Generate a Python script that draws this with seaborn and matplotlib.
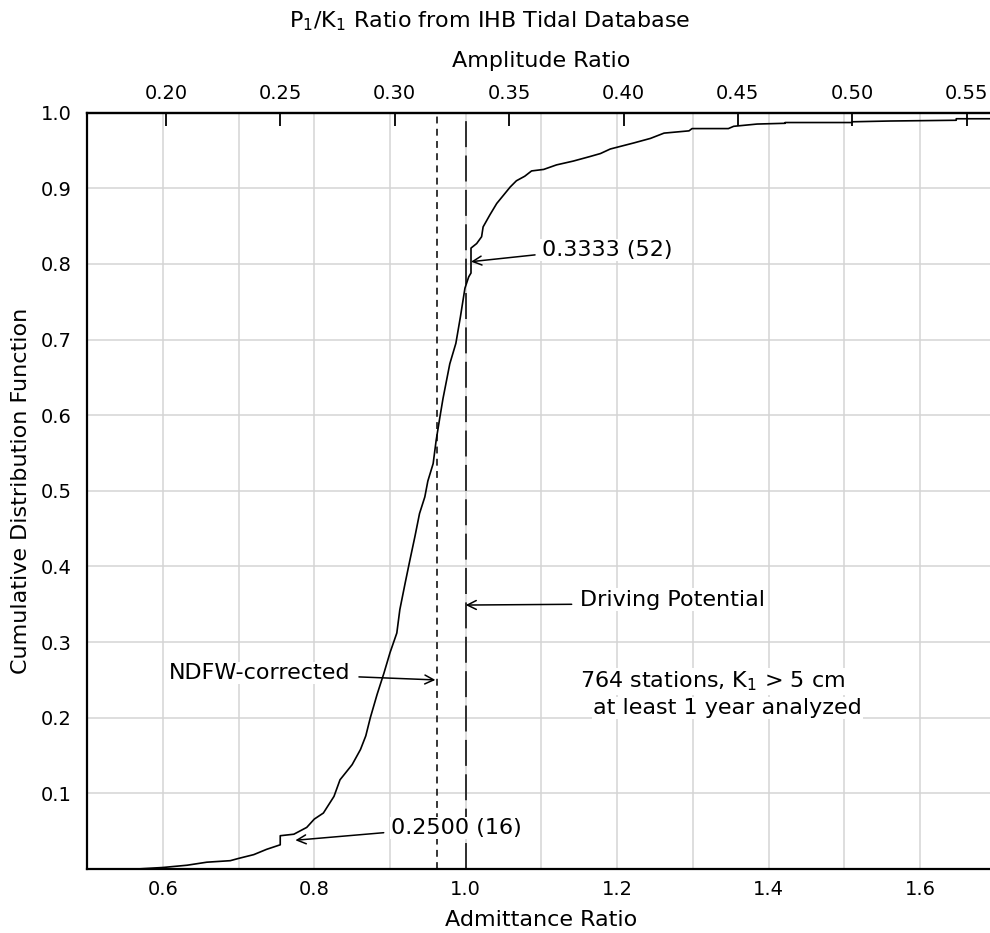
import numpy as np
import pandas as pd
import matplotlib
matplotlib.use("Agg")
import matplotlib.pyplot as plt
import seaborn as sns

# ---- data ----
admittance = [0.566, 0.600, 0.632, 0.658, 0.689, 0.700, 0.720, 0.737, 0.755, 0.755,
              0.773, 0.790, 0.800, 0.812, 0.826, 0.834, 0.850, 0.861, 0.868, 0.874,
              0.883, 0.892, 0.900, 0.909, 0.913, 0.920, 0.926, 0.933, 0.939, 0.946,
              0.950, 0.957, 0.961, 0.966, 0.970, 0.979, 0.987, 0.993, 0.999, 1.004,
              1.007, 1.007, 1.0145, 1.021, 1.023, 1.032, 1.041, 1.050, 1.059, 1.067,
              1.078, 1.087, 1.103, 1.120, 1.142, 1.164, 1.178, 1.191, 1.222, 1.244,
              1.262, 1.295, 1.299, 1.347, 1.354, 1.385, 1.422, 1.422, 1.510, 1.511,
              1.560, 1.648, 1.648, 1.700]
cdf = [0.000, 0.002, 0.005, 0.009, 0.011, 0.014, 0.019, 0.026, 0.032, 0.044,
       0.046, 0.055, 0.066, 0.074, 0.096, 0.118, 0.138, 0.158, 0.176, 0.200,
       0.231, 0.259, 0.286, 0.312, 0.343, 0.378, 0.407, 0.440, 0.470, 0.492,
       0.513, 0.536, 0.567, 0.598, 0.622, 0.668, 0.695, 0.730, 0.768, 0.783,
       0.788, 0.821, 0.827, 0.836, 0.849, 0.865, 0.880, 0.891, 0.902, 0.910,
       0.916, 0.923, 0.925, 0.931, 0.936, 0.942, 0.946, 0.952, 0.960, 0.966,
       0.973, 0.976, 0.979, 0.979, 0.982, 0.985, 0.986, 0.987, 0.987, 0.988,
       0.989, 0.990, 0.992, 0.992]

equilibrium_ratio = 0.331          # P1/K1 amplitude ratio of the driving potential
ndfw_admittance = 0.962
driving_admittance = 1.0

x_ticks = [0.5, 0.6, 0.7, 0.8, 0.9, 1.0, 1.1, 1.2, 1.3, 1.4, 1.5, 1.6, 1.7]
x_tick_labels = ["", "0.6", "", "0.8", "", "1.0", "", "1.2", "", "1.4", "", "1.6", ""]
y_ticks = [0.1, 0.2, 0.3, 0.4, 0.5, 0.6, 0.7, 0.8, 0.9, 1.0]
y_tick_labels = ["0.1", "0.2", "0.3", "0.4", "0.5", "0.6", "0.7", "0.8", "0.9", "1.0"]
amp_ticks = [0.20, 0.25, 0.30, 0.35, 0.40, 0.45, 0.50, 0.55]
amp_tick_labels = ["0.20", "0.25", "0.30", "0.35", "0.40", "0.45", "0.50", "0.55"]

df = pd.DataFrame({"Admittance Ratio": admittance, "CDF": cdf})

sns.set_theme(style="white")
plt.rcParams["font.family"] = ["DejaVu Sans"]
plt.rcParams["text.color"] = "black"
plt.rcParams["axes.labelcolor"] = "black"

W, H = 990, 933
fig = plt.figure(figsize=(W / 100, H / 100), dpi=100)
ax = fig.add_axes([87.2 / W, 64 / H, 908.4 / W, 756.3 / H])

# grid
for xv in x_ticks:
    ax.axvline(xv, color="#d4d4d4", lw=1.1, zorder=0)
for yv in y_ticks:
    ax.axhline(yv, color="#d4d4d4", lw=1.1, zorder=0)

# reference lines
ax.axvline(ndfw_admittance, color="black", lw=1.1, linestyle=(0, (4.5, 3.5)), zorder=2)
ax.axvline(driving_admittance, color="black", lw=1.1, linestyle=(0, (17, 5.5)), zorder=2)

sns.lineplot(data=df, x="Admittance Ratio", y="CDF", ax=ax, color="black", lw=1.2,
             estimator=None, sort=False, zorder=3)

ax.set_xlim(0.5, 1.7)
ax.set_ylim(0.0, 1.0)
ax.set_xticks(x_ticks)
ax.set_xticklabels(x_tick_labels)
ax.set_yticks(y_ticks)
ax.set_yticklabels(y_tick_labels)
ax.tick_params(axis="both", direction="in", length=9, width=1.3, color="black",
               labelsize=14, labelcolor="black")
ax.tick_params(axis="x", pad=8)
ax.tick_params(axis="y", pad=11)
ax.set_xlabel("Admittance Ratio", fontsize=16, labelpad=8)
ax.set_ylabel("Cumulative Distribution Function", fontsize=16, labelpad=7)
for s in ax.spines.values():
    s.set_color("black")
    s.set_linewidth(1.6)

top = ax.secondary_xaxis("top", functions=(lambda a: a * equilibrium_ratio,
                                           lambda r: r / equilibrium_ratio))
top.set_xticks(amp_ticks)
top.set_xticklabels(amp_tick_labels)
top.tick_params(direction="in", length=9, width=1.3, color="black", labelsize=14,
                labelcolor="black", pad=7)
top.set_xlabel("Amplitude Ratio", fontsize=16, labelpad=12)
top.spines["top"].set_linewidth(1.6)

fig.text(490 / W, 1 - 21 / H, r"P$_1$/K$_1$ Ratio from IHB Tidal Database",
         ha="center", va="center", fontsize=16)

bbox = dict(facecolor="white", edgecolor="none", pad=1)
arrow = dict(arrowstyle="->", color="black", lw=1.1, shrinkA=0, shrinkB=0,
             mutation_scale=16)
ts = 16

ax.text(1.1004, 0.8185, "0.3333 (52)", ha="left", va="center", fontsize=ts, bbox=bbox, zorder=5)
ax.annotate("", xy=(1.007, 0.803), xytext=(1.0916, 0.812), arrowprops=arrow, zorder=5)

ax.text(1.151, 0.356, "Driving Potential", ha="left", va="center", fontsize=ts, bbox=bbox, zorder=5)
ax.annotate("", xy=(1.0, 0.349), xytext=(1.140, 0.350), arrowprops=arrow, zorder=5)

ax.text(0.8476, 0.259, "NDFW-corrected", ha="right", va="center", fontsize=ts, bbox=bbox, zorder=5)
ax.annotate("", xy=(0.960, 0.250), xytext=(0.859, 0.254), arrowprops=arrow, zorder=5)

ax.text(0.9013, 0.054, "0.2500 (16)", ha="left", va="center", fontsize=ts, bbox=bbox, zorder=5)
ax.annotate("", xy=(0.775, 0.038), xytext=(0.8917, 0.048), arrowprops=arrow, zorder=5)

ax.text(1.151, 0.248, r"764 stations, K$_1$ > 5 cm", ha="left", va="center",
        fontsize=ts, bbox=bbox, zorder=5)
ax.text(1.1685, 0.213, "at least 1 year analyzed", ha="left", va="center",
        fontsize=ts, bbox=bbox, zorder=5)

fig.savefig("out.png", dpi=100)
